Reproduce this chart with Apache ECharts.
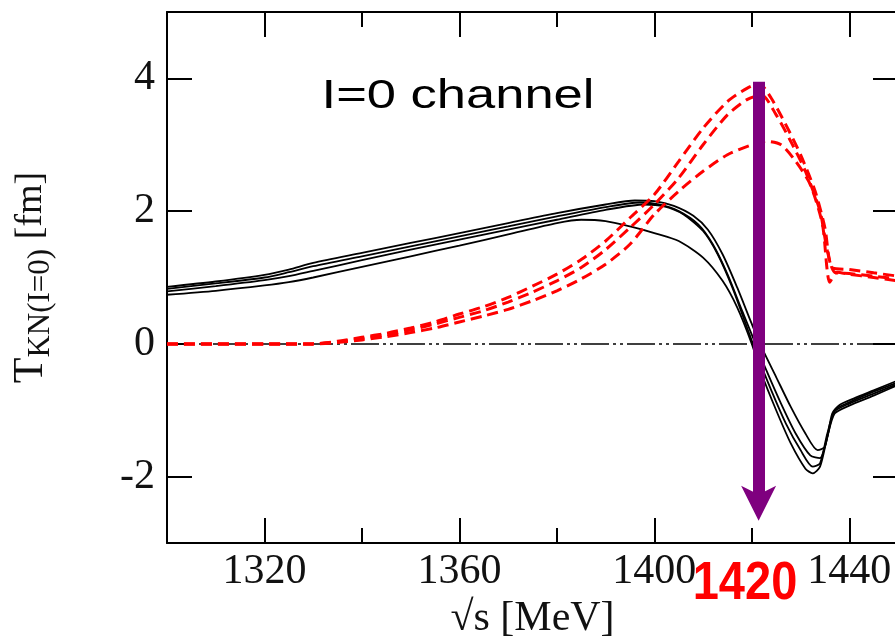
<!DOCTYPE html>
<html>
<head>
<meta charset="utf-8">
<script src="https://cdn.jsdelivr.net/npm/echarts@6/dist/echarts.min.js"></script>
<style>
  html, body { margin: 0; padding: 0; background: #fff; }
  #chart { width: 895px; height: 639px; }
</style>
</head>
<body>
<div id="chart"></div>
<script>
// T_KN(I=0) amplitude vs sqrt(s)
var majorTicks = [1320, 1360, 1400, 1440];
var minorTicks = [1340, 1380, 1420];
var yTicks = [-2, 0, 2, 4];

// black solid curves (real part)
var black1 = [[1300,0.86],[1310,0.94],[1320,1.04],[1325,1.12],[1330,1.22],[1340,1.37],[1350,1.52],[1360,1.67],[1370,1.82],[1380,1.97],[1390,2.1],[1396,2.16],[1400,2.15],[1404,2.08],[1408,1.93],[1411,1.72],[1414,1.35],[1417,0.85],[1420,0.3],[1422,-0.05],[1425,-0.5],[1428,-0.95],[1431,-1.35],[1433.5,-1.6],[1435,-1.55],[1436.5,-1.05],[1438,-0.92],[1441,-0.82],[1445,-0.7],[1450,-0.55]];
var black2 = [[1300,0.83],[1310,0.91],[1320,1.0],[1325,1.08],[1330,1.17],[1340,1.32],[1350,1.47],[1360,1.62],[1370,1.77],[1380,1.92],[1390,2.06],[1397,2.13],[1401,2.1],[1405,2.0],[1409,1.8],[1412,1.5],[1415,1.05],[1418,0.5],[1420.5,0.05],[1423,-0.4],[1426,-0.9],[1429,-1.35],[1432,-1.68],[1434,-1.72],[1435.5,-1.4],[1437,-1.0],[1440,-0.88],[1445,-0.72],[1450,-0.58]];
var black3 = [[1300,0.79],[1310,0.87],[1320,0.96],[1325,1.02],[1330,1.1],[1340,1.26],[1350,1.42],[1360,1.57],[1370,1.72],[1380,1.87],[1390,2.02],[1398,2.1],[1402,2.07],[1406,1.95],[1410,1.7],[1413,1.35],[1416,0.85],[1419,0.25],[1421,-0.15],[1424,-0.7],[1427,-1.2],[1430,-1.6],[1432.5,-1.85],[1434,-1.8],[1435.5,-1.35],[1437,-1.02],[1440,-0.9],[1445,-0.75],[1450,-0.6]];
var black4 = [[1300,0.74],[1310,0.8],[1320,0.88],[1325,0.93],[1330,1.0],[1340,1.16],[1350,1.32],[1360,1.48],[1370,1.65],[1380,1.82],[1385,1.87],[1390,1.85],[1395,1.77],[1400,1.67],[1405,1.55],[1410,1.3],[1414,0.95],[1417,0.55],[1420,0.0],[1422,-0.45],[1425,-1.0],[1428,-1.5],[1431,-1.88],[1432.5,-1.95],[1434,-1.85],[1435.5,-1.4],[1437,-1.05],[1440,-0.93],[1445,-0.78],[1450,-0.62]];

// red dashed curves (imaginary part)
var red1 = [[1300,0],[1330,0],[1335,0.04],[1340,0.1],[1345,0.16],[1350,0.24],[1355,0.33],[1360,0.45],[1365,0.56],[1370,0.7],[1375,0.87],[1380,1.05],[1385,1.27],[1390,1.55],[1395,1.9],[1400,2.25],[1405,2.75],[1410,3.25],[1415,3.65],[1419,3.85],[1421.5,3.92],[1424,3.7],[1427,3.3],[1430,2.85],[1433,2.3],[1435,1.75],[1436.5,1.15],[1440,1.12],[1445,1.07],[1450,1.02]];
var red2 = [[1300,0],[1330,0],[1335,0.03],[1340,0.08],[1345,0.14],[1350,0.21],[1355,0.3],[1360,0.4],[1365,0.5],[1370,0.63],[1375,0.78],[1380,0.95],[1385,1.15],[1390,1.42],[1395,1.75],[1400,2.1],[1405,2.5],[1410,3.0],[1415,3.45],[1419,3.68],[1422,3.75],[1425,3.45],[1428,3.05],[1431,2.6],[1434,2.0],[1435.5,1.4],[1437,1.08],[1440,1.06],[1445,1.02],[1450,0.98]];
var red3 = [[1300,0],[1330,0],[1335,0.02],[1340,0.06],[1345,0.11],[1350,0.17],[1355,0.24],[1360,0.33],[1365,0.42],[1370,0.52],[1375,0.65],[1380,0.8],[1385,0.98],[1390,1.2],[1395,1.5],[1400,1.95],[1405,2.3],[1410,2.6],[1415,2.85],[1420,3.0],[1423,3.05],[1426,3.0],[1429,2.75],[1432,2.4],[1434.5,1.8],[1436,0.93],[1437.5,1.08],[1440,1.05],[1445,1.0],[1450,0.95]];

// purple arrow at 1420 MeV (shaft top, head centre)
var arrowX = 1421.4;
var arrowTop = 3.95;
var arrowEnd = -2.40;

(function() {
  var chart = echarts.init(document.getElementById('chart'), null, { renderer: 'canvas' });
  var serif = '"Liberation Serif", "DejaVu Serif", serif';
  var ink = '#000';
  var purple = '#7f007f';
  var plain = function(v) { return String(v); };

  function xAxis(pos, ticks, len, showLine, showLabel) {
    return {
      type: 'value', position: pos, min: 1300, max: 1450,
      axisLine: { show: showLine, onZero: false, lineStyle: { color: ink, width: 2 } },
      axisTick: { show: true, inside: true, length: len, customValues: ticks, lineStyle: { color: ink, width: 2 } },
      axisLabel: showLabel ? { show: true, customValues: ticks, formatter: plain, color: '#111', fontFamily: serif, fontSize: 42, margin: 8 } : { show: false },
      splitLine: { show: false }
    };
  }
  function yAxis(pos, showLabel) {
    return {
      type: 'value', position: pos, min: -3, max: 5,
      axisLine: { show: true, onZero: false, lineStyle: { color: ink, width: 2 } },
      axisTick: { show: true, inside: true, length: 25, customValues: yTicks, lineStyle: { color: ink, width: 2 } },
      axisLabel: showLabel ? { show: true, customValues: yTicks, formatter: plain, color: '#111', fontFamily: serif, fontSize: 42, margin: 12 } : { show: false },
      splitLine: { show: false }
    };
  }

  var bottom = xAxis('bottom', majorTicks, 25, true, true);
  bottom.name = '\u221As [MeV]';
  bottom.nameLocation = 'middle';
  bottom.nameGap = 52;
  bottom.nameTextStyle = { color: '#111', fontFamily: serif, fontSize: 42 };

  var left = yAxis('left', true);
  left.name = '{t|T}{s|KN(I=0)}{u| [fm]}';
  left.nameLocation = 'middle';
  left.nameGap = 111;
  left.nameRotate = 90;
  left.nameMoveOverlap = false;
  left.nameTextStyle = {
    color: '#111', fontFamily: serif,
    rich: {
      t: { fontFamily: serif, fontSize: 42, lineHeight: 50, color: '#111' },
      s: { fontFamily: serif, fontSize: 31, lineHeight: 24, verticalAlign: 'bottom', color: '#111' },
      u: { fontFamily: serif, fontSize: 38, lineHeight: 50, color: '#111' }
    }
  };

  function blackSeries(data) {
    return { type: 'line', data: data, xAxisIndex: 0, yAxisIndex: 0, symbol: 'none', smooth: 0.25,
      lineStyle: { color: ink, width: 1.8 }, silent: true };
  }
  function redSeries(data) {
    return { type: 'line', data: data, xAxisIndex: 0, yAxisIndex: 0, symbol: 'none', smooth: 0.25,
      lineStyle: { color: '#ff0000', width: 3, type: [11, 6] }, silent: true };
  }

  var series = [blackSeries(black1), blackSeries(black2), blackSeries(black3), blackSeries(black4),
    redSeries(red1), redSeries(red2), redSeries(red3)];

  series[0].markLine = {
    silent: true, symbol: 'none', z: 1, animation: false,
    label: { show: false },
    lineStyle: { color: ink, width: 1.5, type: [28, 4, 3, 4, 3, 4] },
    data: [{ yAxis: 0 }]
  };
  // arrow shaft
  series[6].markLine = {
    silent: true, symbol: 'none', z: 10, animation: false,
    label: { show: false },
    lineStyle: { color: purple, width: 12, type: 'solid' },
    data: [[{ coord: [arrowX, arrowTop] }, { coord: [arrowX, arrowEnd] }]]
  };
  // arrow head (notched, pointing down)
  series[6].markPoint = {
    silent: true, z: 11, animation: false,
    symbol: 'path://M0,1L1,0L0,0.25L-1,0Z', symbolSize: [35, 35], symbolKeepAspect: false,
    itemStyle: { color: purple },
    label: { show: false },
    data: [{ coord: [arrowX, arrowEnd] }]
  };

  chart.setOption({
    animation: false,
    backgroundColor: '#fff',
    grid: { left: 167, right: -3, top: 12, bottom: 96, containLabel: false, outerBoundsMode: 'none' },
    xAxis: [
      bottom,
      xAxis('bottom', minorTicks, 15, false, false),
      xAxis('top', majorTicks, 25, true, false),
      xAxis('top', minorTicks, 15, false, false)
    ],
    yAxis: [left, yAxis('right', false)],
    series: series,
    graphic: [
      { type: 'text', x: 458, y: 97, scaleX: 1.28, z: 100, silent: true,
        style: { text: 'I=0 channel', fontFamily: '"Liberation Sans", Arial, sans-serif', fontSize: 41, fill: '#000', align: 'center', verticalAlign: 'middle' } },
      { type: 'text', x: 745, y: 584, scaleX: 0.87, z: 100, silent: true,
        style: { text: '1420', fontFamily: '"Liberation Sans", Arial, sans-serif', fontSize: 54, fontWeight: 'bold', fill: '#ff0000', align: 'center', verticalAlign: 'middle' } }
    ]
  });
  window.addEventListener('resize', function() { chart.resize(); });
})();
</script>
</body>
</html>
